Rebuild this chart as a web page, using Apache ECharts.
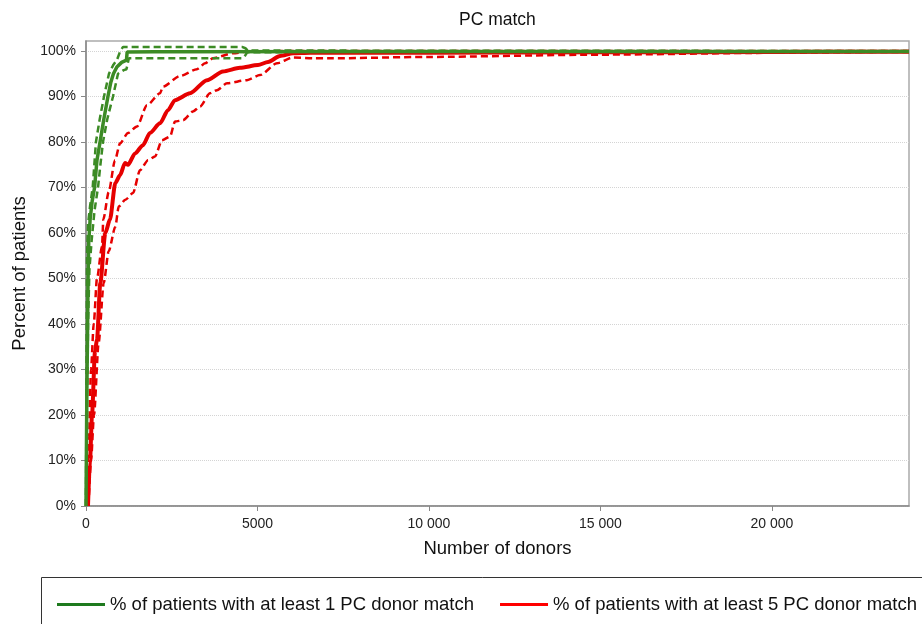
<!DOCTYPE html>
<html><head><meta charset="utf-8">
<script src="https://cdn.jsdelivr.net/npm/echarts@6/dist/echarts.min.js"></script>
<style>html,body{margin:0;padding:0;background:#fff}#c{width:922px;height:624px}</style>
</head><body><div id="c"></div>
<script>
const titleText = 'PC match';
const xName = 'Number of donors';
const yName = 'Percent of patients';
const xTicks = [0, 5000, 10000, 15000, 20000];
const yTicks = [0, 10, 20, 30, 40, 50, 60, 70, 80, 90, 100];
const names = ['% of patients with at least 1 PC donor match', '% of patients with at least 5 PC donor match'];

// [number of donors, percent of patients]
const greenMain = [[0,0],[10,10],[25,25],[40,35],[60,50],[80,58],[120,63],[180,67],[250,70],[320,76],[410,80],[520,85],[640,90],[720,93],[800,95],[900,96.5],[1040,97.5],[1180,98],[1200,99.8],[2000,99.85],[10000,99.9],[24000,99.9]];
const greenUpper = [[0,0],[10,20],[20,40],[30,55],[60,62],[120,66],[195,70],[290,80],[400,85],[525,90],[670,95],[800,97],[900,98],[1000,100],[1080,100.9],[4550,100.9],[4650,100.6],[4720,100.1],[24000,100]];
const greenLower = [[0,0],[30,20],[60,40],[100,52],[166,58.5],[250,65],[350,70],[420,75],[496,80],[620,85],[787,90],[933,95],[1100,95.8],[1180,96],[1250,98.4],[4560,98.4],[4640,99],[4700,99.7],[24000,99.8]];
const redMain = [[58,0],[117,10],[175,20],[262,34],[320,36.5],[417,49],[563,60],[700,63],[855,71],[992,72.7],[1137,75.4],[1225,75],[1430,77.5],[1662,79.3],[1866,82],[2158,84.1],[2391,87],[2595,89.2],[3033,90.7],[3529,93.6],[3995,95.5],[4491,96.3],[5016,96.9],[5308,97.6],[5658,98.9],[6037,99.5],[6533,99.6],[10000,99.6],[15000,99.7],[20000,99.8],[24000,99.85]];
const redUpper = [[29,0],[88,15],[146,30],[225,40],[320,50],[467,57],[505,63],[662,69],[846,76],[992,79.7],[1225,82],[1487,83.4],[1779,88.1],[2158,90.7],[2246,92.2],[2741,94.5],[3237,96],[3470,97.3],[3704,98.4],[4287,99.5],[4695,99.85],[6000,100],[24000,100]];
const redLower = [[73,0],[146,10],[233,20],[370,36],[516,49],[662,56],[855,61.4],[954,65.8],[1146,67.3],[1371,68.8],[1575,73.8],[1808,76],[2012,76.8],[2216,80.4],[2450,81.2],[2596,84.5],[2829,84.8],[3120,86.7],[3325,87.8],[3616,90.7],[3820,91.4],[4112,92.9],[4695,93.6],[5074,94.7],[5570,97.3],[6037,98.6],[6620,98.4],[7116,98.4],[10000,98.7],[15000,99.2],[20000,99.6],[24000,99.9]];

const GREEN = '#3c8b25', RED = '#e60000';
const FONT = 'Liberation Sans, Arial, sans-serif';
const chart = echarts.init(document.getElementById('c'), null, {renderer: 'canvas'});
const fmtX = v => v >= 10000 ? String(v).replace(/\B(?=(\d{3})+(?!\d))/g, ' ') : String(v);
const dashed = (name, data, color, smooth) => ({
  name, type: 'line', data, showSymbol: false, symbol: 'none', silent: true,
  smooth: smooth || false, smoothMonotone: 'x',
  lineStyle: {color, width: 2.5, type: [7, 4]}, z: 2
});
chart.setOption({
  animation: false,
  textStyle: {fontFamily: FONT},
  title: {text: titleText, left: 454, top: 6,
    textStyle: {fontSize: 17.5, fontWeight: 'normal', color: '#111', fontFamily: FONT}},
  grid: {left: 86, right: 13, top: 41, bottom: 118, show: true, borderColor: '#aaa', borderWidth: 1.5},
  xAxis: {
    type: 'value', min: 0, max: 24000, interval: 5000,
    name: xName, nameLocation: 'middle', nameGap: 33,
    nameTextStyle: {fontSize: 18.5, color: '#111'},
    axisLine: {lineStyle: {color: '#888', width: 1.5}},
    axisTick: {show: true, length: 5, lineStyle: {color: '#888'}, customValues: xTicks},
    axisLabel: {fontSize: 14, color: '#222', margin: 11, formatter: fmtX, customValues: xTicks},
    splitLine: {show: false}
  },
  yAxis: {
    type: 'value', min: 0, max: 102.2, interval: 10,
    name: yName, nameLocation: 'middle', nameGap: 57,
    nameTextStyle: {fontSize: 18.5, color: '#111'},
    axisLine: {show: true, lineStyle: {color: '#888', width: 1.5}},
    axisTick: {show: true, length: 5, lineStyle: {color: '#888'}, customValues: yTicks},
    axisLabel: {fontSize: 14, color: '#222', margin: 10, formatter: v => v + '%', customValues: yTicks},
    splitLine: {show: true, lineStyle: {color: '#d4d4d4', type: 'dotted', width: 1}}
  },
  legend: {
    left: 52, top: 590, width: 1200, itemWidth: 48, itemHeight: 3, itemGap: 26, icon: 'rect',
    textStyle: {fontSize: 18.5, color: '#111'}, selectedMode: false,
    data: [{name: names[0], itemStyle: {color: '#1e7a1e'}}, {name: names[1], itemStyle: {color: '#ff0000'}}]
  },
  graphic: [{type: 'rect', shape: {x: 41.5, y: 577.5, width: 1000, height: 100},
    style: {fill: 'none', stroke: '#333', lineWidth: 1}, silent: true}],
  series: [
    dashed('red upper', redUpper, RED, 0.25),
    dashed('red lower', redLower, RED, 0.25),
    {name: names[1], type: 'line', data: redMain, showSymbol: false, symbol: 'none', smooth: 0.25, smoothMonotone: 'x',
      lineStyle: {color: RED, width: 4}, itemStyle: {color: RED}, z: 3},
    dashed('green upper', greenUpper, GREEN),
    dashed('green lower', greenLower, GREEN),
    {name: names[0], type: 'line', data: greenMain, showSymbol: false, symbol: 'none', lineStyle: {color: GREEN, width: 3.5}, itemStyle: {color: GREEN}, z: 4}
  ]
});
</script></body></html>
